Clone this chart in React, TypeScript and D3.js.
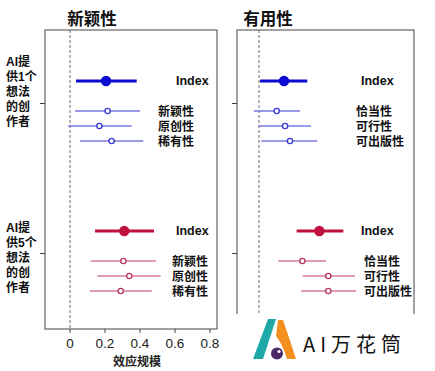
import React from "react";
import * as d3 from "d3";

// ---------- data ----------
const panelTitles = ["新颖性", "有用性"];
const groupLabels = [
  ["AI提", "供1个", "想法", "的创", "作者"],
  ["AI提", "供5个", "想法", "的创", "作者"],
];
const noveltyItems = ["Index", "新颖性", "原创性", "稀有性"];
const usefulItems = ["Index", "恰当性", "可行性", "可出版性"];

// novelty panel, group 1 (1 idea) and group 2 (5 ideas)
const nov1Est = [0.206, 0.215, 0.168, 0.238];
const nov1Lo = [0.034, 0.029, -0.01, 0.057];
const nov1Hi = [0.381, 0.4, 0.352, 0.419];
const nov5Est = [0.31, 0.305, 0.339, 0.29];
const nov5Lo = [0.143, 0.118, 0.156, 0.114];
const nov5Hi = [0.48, 0.49, 0.518, 0.467];
// usefulness panel
const use1Est = [0.143, 0.101, 0.149, 0.177];
const use1Lo = [0.006, -0.03, -0.004, 0.013];
const use1Hi = [0.276, 0.234, 0.297, 0.333];
const use5Est = [0.345, 0.248, 0.396, 0.396];
const use5Lo = [0.215, 0.11, 0.25, 0.24];
const use5Hi = [0.482, 0.383, 0.549, 0.554];

const xTicks = [0, 0.2, 0.4, 0.6, 0.8];
const axisTitle = "效应规模";
const logoText = "AI万花筒";

// ---------- layout ----------
const W = 435;
const H = 371;
const TOP = 30;
const BOTTOM = 329;
const rowUnits = [0, 2, 3, 4]; // index row then sub rows
const groupStart = [0, 10];

const y = d3.scaleLinear().domain([0, 1]).range([81, 96]);

const panels = [
  {
    left: 45,
    right: 217,
    zero: 70,
    titleX: 92,
    items: noveltyItems,
    groups: [
      { est: nov1Est, lo: nov1Lo, hi: nov1Hi },
      { est: nov5Est, lo: nov5Lo, hi: nov5Hi },
    ],
    labelPos: [
      { idx: 176, sub: 158, anchor: "start" },
      { idx: 176, sub: 208, anchor: "end" },
    ],
  },
  {
    left: 237,
    right: 414,
    zero: 259,
    titleX: 268,
    items: usefulItems,
    groups: [
      { est: use1Est, lo: use1Lo, hi: use1Hi },
      { est: use5Est, lo: use5Lo, hi: use5Hi },
    ],
    labelPos: [
      { idx: 361, sub: 356, anchor: "start" },
      { idx: 361, sub: 364, anchor: "start" },
    ],
  },
];

const PX_PER_UNIT = 175;

const colors = [
  { main: "#0a0ad0", light: "#7878e4", ring: "#3c3cd6" },
  { main: "#c01040", light: "#d97a98", ring: "#b8386a" },
];

const sansCJK = "'Noto Sans CJK SC', 'Noto Sans', sans-serif";
const compactCJK = "'Liberation Sans', 'Noto Sans CJK SC', sans-serif";
const groupLabelCenter = [0.67, 11.7];
const groupTick = [1.5, 11.5];

export default function App() {
  return (
    <svg width={W} height={H} style={{ position: "absolute", left: 0, top: 0, background: "#fff" }}>
      <rect x={0} y={0} width={W} height={H} fill="#fff" />
      {panels.map((p, pi) => {
        const x = d3
          .scaleLinear()
          .domain([(p.left - p.zero) / PX_PER_UNIT, (p.right - p.zero) / PX_PER_UNIT])
          .range([p.left, p.right]);
        return (
          <g key={pi}>
            {/* title */}
            <text
              x={p.titleX}
              y={18}
              textAnchor="middle"
              dominantBaseline="central"
              fontFamily={sansCJK}
              fontWeight="bold"
              fontSize={16.5}
              fill="#111"
            >
              {panelTitles[pi]}
            </text>
            {/* zero dashed line */}
            <line
              x1={x(0)}
              x2={x(0)}
              y1={TOP}
              y2={BOTTOM}
              stroke="#888"
              strokeWidth={1.2}
              strokeDasharray="3,2"
            />
            {/* frame */}
            <rect
              x={p.left}
              y={TOP}
              width={p.right - p.left}
              height={BOTTOM - TOP}
              fill="none"
              stroke="#444"
              strokeWidth={1}
            />
            {/* group ticks */}
            {groupTick.map((g, gi) => (
              <line key={gi} x1={p.left - 5} x2={p.left} y1={y(g)} y2={y(g)} stroke="#444" strokeWidth={1} />
            ))}
            {/* marks */}
            {p.groups.map((g, gi) => {
              const c = colors[gi];
              const lp = p.labelPos[gi];
              return (
                <g key={gi}>
                  {g.est.map((e, i) => {
                    const yy = y(groupStart[gi] + rowUnits[i]);
                    const isIdx = i === 0;
                    return (
                      <g key={i}>
                        <line
                          x1={x(g.lo[i])}
                          x2={x(g.hi[i])}
                          y1={yy}
                          y2={yy}
                          stroke={isIdx ? c.main : c.light}
                          strokeWidth={isIdx ? 3 : 1.3}
                        />
                        {isIdx ? (
                          <circle cx={x(e)} cy={yy} r={5.2} fill={c.main} />
                        ) : (
                          <circle cx={x(e)} cy={yy} r={2.6} fill="#fff" stroke={c.ring} strokeWidth={1.4} />
                        )}
                        <text
                          x={isIdx ? lp.idx : lp.sub}
                          y={isIdx ? yy : yy + 1.2}
                          textAnchor={isIdx ? "start" : lp.anchor}
                          dominantBaseline="central"
                          fontFamily={isIdx ? "'Liberation Sans', Arial, sans-serif" : compactCJK}
                          fontWeight="bold"
                          fontSize={isIdx ? 12.5 : 12}
                          fill="#111"
                        >
                          {p.items[i]}
                        </text>
                      </g>
                    );
                  })}
                </g>
              );
            })}
            {/* x axis on left panel */}
            {pi === 0 && (
              <g>
                {xTicks.map((t) => (
                  <g key={t}>
                    <line x1={x(t)} x2={x(t)} y1={BOTTOM} y2={BOTTOM + 4} stroke="#444" />
                    <text
                      x={x(t)}
                      y={343}
                      textAnchor="middle"
                      dominantBaseline="central"
                      fontFamily="'Liberation Sans', Arial, sans-serif"
                      fontSize={13.5}
                      fill="#222"
                    >
                      {t === 0 ? "0" : d3.format(".1f")(t)}
                    </text>
                  </g>
                ))}
                <text
                  x={(p.left + p.right) / 2 + 6}
                  y={360}
                  textAnchor="middle"
                  dominantBaseline="central"
                  fontFamily={sansCJK}
                  fontWeight="bold"
                  fontSize={12}
                  fill="#222"
                >
                  {axisTitle}
                </text>
              </g>
            )}
          </g>
        );
      })}
      {/* group labels */}
      {groupLabels.map((lines, gi) => {
        const cy = y(groupLabelCenter[gi]) + 1;
        const sp = 15;
        const start = cy - ((lines.length - 1) * sp) / 2;
        return (
          <g key={gi}>
            {lines.map((l, li) => (
              <text
                key={li}
                x={6}
                y={start + li * sp}
                dominantBaseline="central"
                fontFamily={compactCJK}
                fontWeight="bold"
                fontSize={12}
                fill="#111"
              >
                {l}
              </text>
            ))}
          </g>
        );
      })}
      {/* logo overlay */}
      <rect x={226} y={314} width={209} height={57} fill="#fff" />
      <g>
        <polygon points="268,319 276,319 263,359 253,359" fill="#1fa8a8" />
        <path d="M278,320 L283,320 Q290,340 296,359 L287,359 Q283,345 276,336 Z" fill="#f39020" />
        <circle cx={277} cy={353.5} r={6} fill="#4b2a66" />
        <circle cx={279} cy={351.5} r={1.6} fill="#fff" />
        <text
          x={303}
          y={343}
          dominantBaseline="central"
          fontFamily={sansCJK}
          fontSize={20}
          letterSpacing={5}
          fill="#111"
        >
          {logoText}
        </text>
      </g>
    </svg>
  );
}
